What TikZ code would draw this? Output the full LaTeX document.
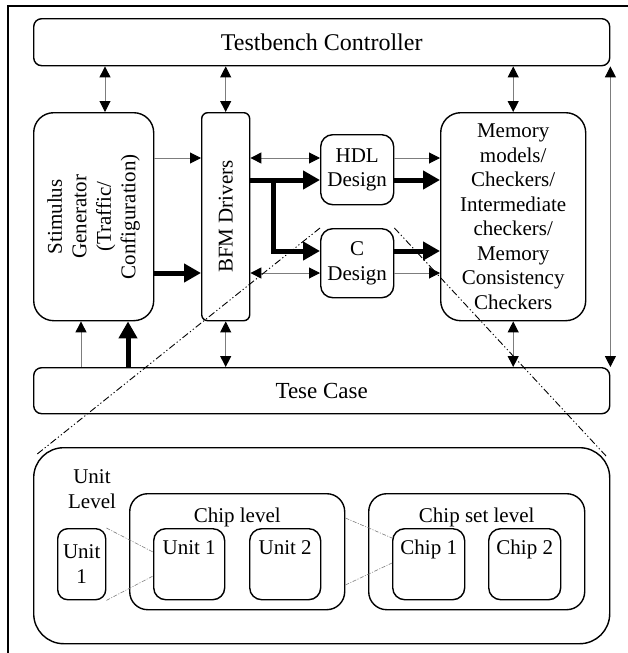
\documentclass[tikz,border=0pt]{standalone}
\usepackage{fontspec}
\setmainfont{Liberation Serif}
\usetikzlibrary{arrows.meta}
\usepackage{xcolor}
\definecolor{lGray}{RGB}{125, 125, 125}
\definecolor{tDark}{RGB}{0, 0, 0}

\begin{document}
\begin{tikzpicture}[
    x=1pt, y=-1pt,
    font=\fontsize{21}{24.5}\selectfont,
    block/.style={
        draw=tDark,
        line width=1.4pt,
        rounded corners=#1,
        align=center,
        inner sep=0pt,
        anchor=north west
    },
    thinarr/.style={line width=1pt, color=lGray, -{Triangle[length=11pt, width=11pt, color=black]}},
    dblarr/.style={line width=1pt, color=lGray,
        {Triangle[length=11pt, width=11pt, color=black]}-{Triangle[length=11pt, width=11pt, color=black]}},
    thickarr/.style={line width=5pt, color=tDark, -{Triangle[length=17pt, width=18pt]}},
    zoomline/.style={line width=0.9pt, dash pattern=on 7pt off 2.5pt on 1.2pt off 2.5pt on 1.2pt off 2.5pt},
    linkline/.style={line width=0.6pt, color=lGray, dash pattern=on 4pt off 1.5pt on 1pt off 1.5pt}
]

\useasboundingbox (0,0) rectangle (628,653);
\draw[line width=1.5pt] (8,653) -- (8,6) -- (628,6);

% testbench part
\node[block=8pt, minimum width=576pt, minimum height=47pt, font=\fontsize{24}{28}\selectfont] (tbc) at (33,18) {Testbench Controller};
\node[block=20pt, minimum width=120pt, minimum height=208pt] (stim) at (33,112) {};
\node[rotate=90, align=center] (stimtxt) at (stim.center) {Stimulus\\Generator\\(Traffic/\\Configuration)};
\node[block=6pt, minimum width=48pt, minimum height=208pt] (bfm) at (201,112) {};
\node[rotate=90] (bfmtxt) at (bfm.center) {BFM Drivers};
\node[block=12pt, minimum width=73pt, minimum height=70pt] (hdl) at (320,134) {HDL\\Design};
\node[block=12pt, minimum width=73pt, minimum height=69pt] (cdes) at (320,228) {C\\Design};
\node[block=20pt, minimum width=145pt, minimum height=208pt] (mem) at (440,112)
    {Memory\\models/\\Checkers/\\Intermediate\\checkers/\\Memory\\Consistency\\Checkers};
\node[block=8pt, minimum width=576pt, minimum height=46pt, font=\fontsize{23}{27}\selectfont] (tcase) at (33,367) {Tese Case};

% levels
\node[block=30pt, minimum width=576pt, minimum height=196pt] (panel) at (33,447) {};
\node[align=center] (unitlvl) at (92,489) {Unit\\Level};
\node[block=10pt, minimum width=48pt, minimum height=71pt] (unitA) at (57,528) {Unit\\1};
\node[block=18pt, minimum width=215pt, minimum height=116pt,
    label={[anchor=north, inner sep=0pt, yshift=-15pt]north:Chip level}] (chiplvl) at (129,493) {};
\node[block=12pt, minimum width=71pt, minimum height=71pt,
    label={[anchor=north, inner sep=0pt, yshift=-12pt]north:Unit 1}] (unitB) at (153,528) {};
\node[block=12pt, minimum width=71pt, minimum height=71pt,
    label={[anchor=north, inner sep=0pt, yshift=-12pt]north:Unit 2}] (unitC) at (249,528) {};
\node[block=18pt, minimum width=216pt, minimum height=116pt,
    label={[anchor=north, inner sep=0pt, yshift=-15pt]north:Chip set level}] (chipset) at (368,493) {};
\node[block=12pt, minimum width=72pt, minimum height=71pt,
    label={[anchor=north, inner sep=0pt, yshift=-12pt]north:Chip 1}] (chipA) at (392,528) {};
\node[block=12pt, minimum width=72pt, minimum height=71pt,
    label={[anchor=north, inner sep=0pt, yshift=-12pt]north:Chip 2}] (chipB) at (488,528) {};

\coordinate (r1) at (0,158);
\coordinate (r2) at (0,180);
\coordinate (r3) at (0,251);
\coordinate (r4) at (0,273);
\coordinate (c1) at (105,0);
\coordinate (c2) at (81,0);
\coordinate (c3) at (128,0);
\coordinate (br) at (273,180);
\coordinate (zl) at (36,455);
\coordinate (zr) at (607,457);

\draw[dblarr] (tbc.south -| c1) -- (stim.north -| c1);
\draw[dblarr] (tbc.south -| bfm.north) -- (bfm.north);
\draw[dblarr] (tbc.south -| mem.north) -- (mem.north);
\draw[dblarr] (tbc.south east) -- (tcase.north east);

\draw[thinarr] (stim.east |- r1) -- (bfm.west |- r1);
\draw[thickarr] (stim.east |- r4) -- (bfm.west |- r4);
\draw[dblarr] (bfm.east |- r1) -- (hdl.west |- r1);
\draw[thickarr] (bfm.east |- r2) -- (hdl.west |- r2);
\draw[thickarr] (br) |- (cdes.west |- r3);
\draw[dblarr] (bfm.east |- r4) -- (cdes.west |- r4);
\draw[thinarr] (hdl.east |- r1) -- (mem.west |- r1);
\draw[thickarr] (hdl.east |- r2) -- (mem.west |- r2);
\draw[thickarr] (cdes.east |- r3) -- (mem.west |- r3);
\draw[thinarr] (cdes.east |- r4) -- (mem.west |- r4);

\draw[thinarr] (tcase.north -| c2) -- (stim.south -| c2);
\draw[thickarr] (tcase.north -| c3) -- (stim.south -| c3);
\draw[dblarr] (bfm.south) -- (tcase.north -| bfm.south);
\draw[dblarr] (mem.south) -- (tcase.north -| mem.south);

% zoom out to the levels
\draw[zoomline] (cdes.north west) -- (zl);
\draw[zoomline] (cdes.north east) -- (zr);
\draw[linkline] (unitA.north east) -- (unitB.west |- 0,552);
\draw[linkline] (unitA.south east) -- (unitB.west |- 0,576);
\draw[linkline] (chiplvl.east |- 0,518) -- (chipA.west |- 0,538);
\draw[linkline] (chiplvl.east |- 0,585) -- (chipA.west |- 0,563);

\end{tikzpicture}
\end{document}
